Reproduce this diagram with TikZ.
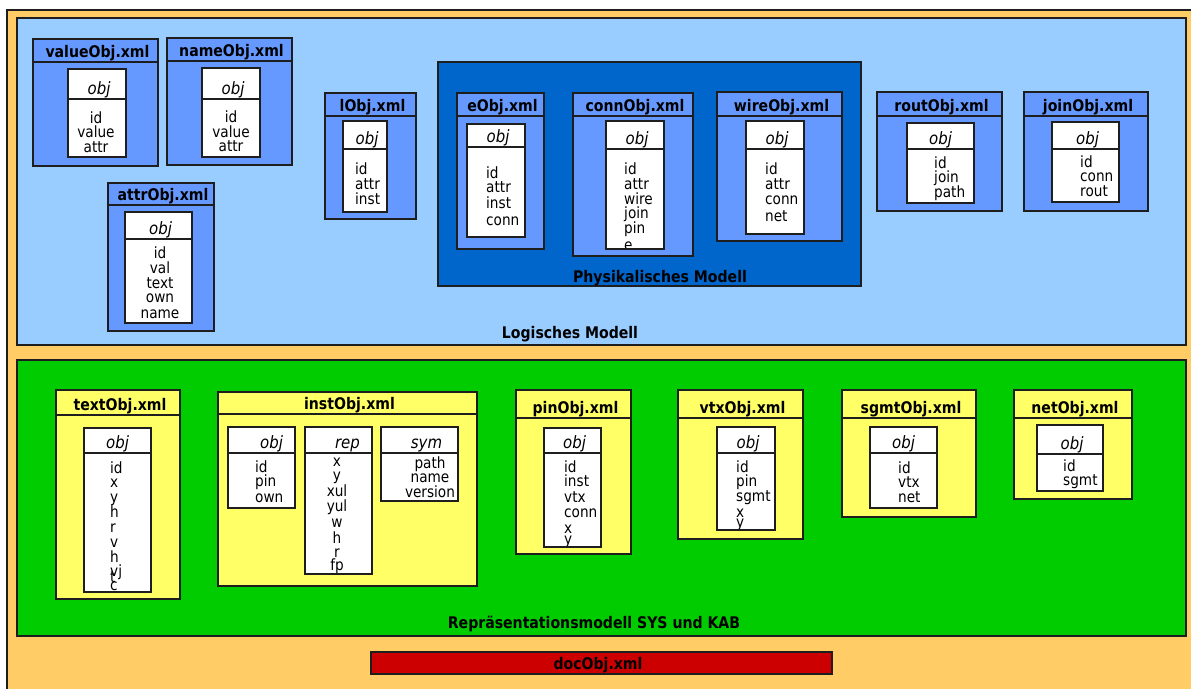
\documentclass[tikz,border=0pt]{standalone}
\usepackage{fontspec}
\setmainfont{DejaVu Sans}[FakeStretch=0.88]

\definecolor{docorange}{HTML}{FFCC66}
\definecolor{logicblue}{HTML}{99CCFF}
\definecolor{physblue}{HTML}{0066CC}
\definecolor{fileblue}{HTML}{6699FF}
\definecolor{repgreen}{HTML}{00CC00}
\definecolor{fileyellow}{HTML}{FFFF66}
\definecolor{docred}{HTML}{CC0000}
\definecolor{edge}{HTML}{1E1E1E}

\tikzset{
  frame/.style={draw=edge, line width=1.1pt, inner sep=0pt, outer sep=0pt},
  panel/.style={frame},
  bluefile/.style={frame, fill=fileblue},
  yellowfile/.style={frame, fill=fileyellow},
  objtable/.style={frame, fill=white},
  hdrline/.style={draw=edge, line width=1.1pt},
  titletxt/.style={inner sep=0pt, font=\fontsize{16}{18}\selectfont\bfseries},
  headtxt/.style={inner sep=0pt, font=\fontsize{17}{19}\selectfont\itshape},
  fieldtxt/.style={inner sep=0pt, font=\fontsize{15.5}{17}\selectfont},
  modeltxt/.style={inner sep=0pt, font=\fontsize{16}{18}\selectfont\bfseries},
}

% rectangle node from corner coordinates: style, name, x1, y1, x2, y2
\newcommand\rectnode[6]{%
  \node[#1, anchor=north west, minimum width={(#5)-(#3)}, minimum height={(#6)-(#4)}] (#2) at (#3,#4) {};}

% file box: style, name, x1, y1, x2, y2, header line y, title
\newcommand\xmlfile[8]{%
  \rectnode{#1}{#2}{#3}{#4}{#5}{#6}
  \draw[hdrline] (#3,#7) -- (#5,#7);
  \node[titletxt, anchor=base] (#2-title) at ({(#3+#5)/2+2}, #7-5) {#8};}

% object table: name, x1, y1, x2, y2, separator y, heading, heading x shift
\newcommand\objbox[8]{%
  \rectnode{objtable}{#1}{#2}{#3}{#4}{#5}
  \draw[hdrline] (#2,#6) -- (#4,#6);
  \node[headtxt, anchor=base] (#1-head) at ({(#2+#4)/2+#8}, #6-5) {#7};}

% field lines of a table, clipped to it: table name, anchor, x, list text/baseline
\newcommand\fields[4]{%
  \begin{scope}
    \clip (#1.south west) rectangle (#1.north east);
    \foreach \t/\y [count=\i] in {#4}
      \node[fieldtxt, anchor=#2] (#1-f\i) at (#3,\y) {\t};
  \end{scope}
  \draw[frame] (#1.south west) rectangle (#1.north east);}

\begin{document}
\begin{tikzpicture}[x=1pt, y=-1pt]
\useasboundingbox (0,0) rectangle (1191,688);
\clip (0,0) rectangle (1191,688);
\fill[white] (0,0) rectangle (1191,688);

% ---------- panels ----------
\rectnode{panel, fill=docorange}{docpanel}{7}{10}{1200}{700}
\rectnode{panel, fill=logicblue}{logic}{17}{18}{1186}{345}
\rectnode{panel, fill=physblue}{phys}{438}{62}{861}{286}
\rectnode{panel, fill=repgreen}{repr}{17}{360}{1186}{636}
\rectnode{panel, fill=docred}{docobj}{371}{652}{832}{674}
\node[modeltxt, anchor=base] (docobj-title) at (598,669) {docObj.xml};

\node[modeltxt, anchor=base] (logic-label) at (570,338) {Logisches Modell};
\node[modeltxt, anchor=base] (phys-label) at (660,282) {Physikalisches Modell};
\node[modeltxt, anchor=base] (repr-label) at (594,628) {Repräsentationsmodell SYS und KAB};

% ---------- logical model ----------
\xmlfile{bluefile}{valueObj}{33}{39}{158}{166}{62}{valueObj.xml}
\objbox{valueT}{68}{69}{126}{157}{99}{obj}{2}
\fields{valueT}{base}{96}{id/123, value/137, attr/152}

\xmlfile{bluefile}{nameObj}{167}{38}{292}{165}{61}{nameObj.xml}
\objbox{nameT}{202}{68}{260}{157}{99}{obj}{2}
\fields{nameT}{base}{231}{id/122, value/137, attr/151}

\xmlfile{bluefile}{attrObj}{108}{183}{214}{331}{205}{attrObj.xml}
\objbox{attrT}{125}{212}{192}{323}{239}{obj}{2}
\fields{attrT}{base}{160}{id/258, val/273, text/288, own/302, name/318}

\xmlfile{bluefile}{lObj}{325}{93}{416}{219}{116}{lObj.xml}
\objbox{lT}{343}{121}{387}{212}{149}{obj}{2}
\fields{lT}{base west}{355}{id/174, attr/189, inst/204}

\xmlfile{bluefile}{routObj}{877}{92}{1002}{211}{116}{routObj.xml}
\objbox{routT}{907}{123}{974}{203}{149}{obj}{0}
\fields{routT}{base west}{934}{id/168, join/182, path/197}

\xmlfile{bluefile}{joinObj}{1024}{92}{1148}{211}{116}{joinObj.xml}
\objbox{joinT}{1052}{122}{1119}{202}{149}{obj}{2}
\fields{joinT}{base west}{1080}{id/167, conn/181, rout/196}

% ---------- physical model ----------
\xmlfile{bluefile}{eObj}{457}{93}{544}{249}{116}{eObj.xml}
\objbox{eT}{467}{124}{525}{237}{147}{obj}{2}
\fields{eT}{base west}{486}{id/178, attr/192, inst/208, conn/225}

\xmlfile{bluefile}{connObj}{573}{93}{693}{256}{116}{connObj.xml}
\objbox{connT}{606}{121}{664}{249}{149}{obj}{2}
\fields{connT}{base west}{624}{id/174, attr/189, wire/204, join/218, pin/233, e/250}

\xmlfile{bluefile}{wireObj}{717}{92}{842}{241}{116}{wireObj.xml}
\objbox{wireT}{746}{121}{804}{234}{149}{obj}{2}
\fields{wireT}{base west}{765}{id/174, attr/189, conn/204, net/221}

% ---------- representation model ----------
\xmlfile{yellowfile}{textObj}{56}{390}{180}{599}{415}{textObj.xml}
\objbox{textT}{84}{428}{151}{592}{453}{obj}{0}
\fields{textT}{base west}{110}{id/473, x/487, y/502, h/517, r/532, v/547, h/562, vj/576, t/582, c/590}

\xmlfile{yellowfile}{instObj}{218}{392}{477}{586}{414}{instObj.xml}
\objbox{instT}{228}{427}{295}{508}{453}{obj}{10}
\fields{instT}{base west}{255}{id/472, pin/486, own/502}
\objbox{repT}{305}{427}{372}{574}{453}{rep}{9}
\fields{repT}{base}{337}{x/466, y/480, xul/496, yul/511, w/527, h/543, r/557, fp/570}
\objbox{symT}{381}{427}{458}{501}{453}{sym}{7}
\fields{symT}{base}{430}{path/468, name/482, version/497}

\xmlfile{yellowfile}{pinObj}{516}{390}{631}{554}{418}{pinObj.xml}
\objbox{pinT}{544}{428}{601}{547}{453}{obj}{2}
\fields{pinT}{base west}{564}{id/472, inst/486, vtx/502, conn/517, x/533, y/544}

\xmlfile{yellowfile}{vtxObj}{678}{390}{803}{539}{418}{vtxObj.xml}
\objbox{vtxT}{717}{427}{775}{530}{453}{obj}{2}
\fields{vtxT}{base west}{736}{id/472, pin/486, sgmt/501, x/517, y/527}

\xmlfile{yellowfile}{sgmtObj}{842}{390}{976}{517}{418}{sgmtObj.xml}
\objbox{sgmtT}{870}{427}{937}{508}{453}{obj}{0}
\fields{sgmtT}{base west}{898}{id/473, vtx/487, net/502}

\xmlfile{yellowfile}{netObj}{1014}{390}{1132}{499}{418}{netObj.xml}
\objbox{netT}{1037}{425}{1103}{491}{454}{obj}{2}
\fields{netT}{base west}{1063}{id/471, sgmt/485}
\end{tikzpicture}
\end{document}
